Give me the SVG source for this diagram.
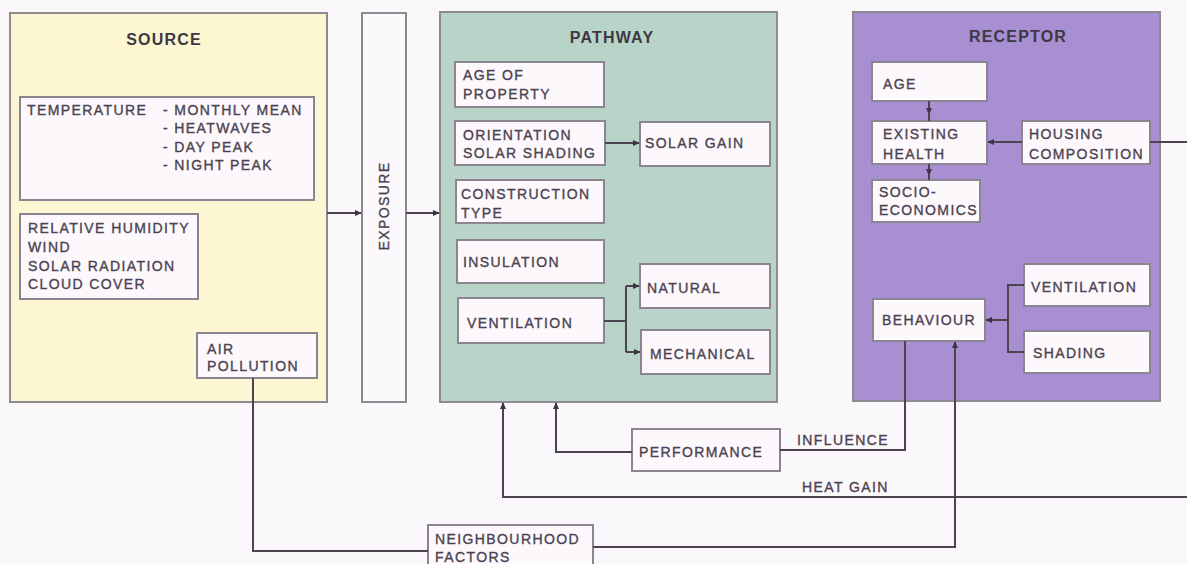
<svg xmlns="http://www.w3.org/2000/svg" width="1187" height="564" viewBox="0 0 1187 564">
  <defs>
    <marker id="arr" viewBox="0 0 10 10" refX="9" refY="5" markerWidth="7" markerHeight="7" orient="auto" markerUnits="userSpaceOnUse">
      <path d="M0,0.5 L10,5 L0,9.5 z" fill="#3c3541"/>
    </marker>
    <style>
      .panel { stroke: #8d8b90; stroke-width: 2; }
      .src { fill: #fcf6d2; }
      .path { fill: #b8d4c9; }
      .rec { fill: #a78fd2; }
      .box { fill: #fcf8fc; stroke: #8a8590; stroke-width: 2; }
      .t { font-family: "Liberation Sans", Arial, sans-serif; font-size: 14px; fill: #4b4350; stroke: #4b4350; stroke-width: 0.35; letter-spacing: 1.4px; }
      .h { font-family: "Liberation Sans", Arial, sans-serif; font-size: 16px; font-weight: bold; fill: #3e3842; letter-spacing: 1.2px; text-anchor: middle; }
      .ln { fill: none; stroke: #4b4350; stroke-width: 2; }
    </style>
  </defs>

  <rect width="1187" height="564" fill="#fbf8fb"/>

  <!-- panels -->
  <g id="source">
    <rect class="panel src" x="10" y="13" width="317" height="389"/>
    <text class="h" x="164" y="45">SOURCE</text>
  </g>
  <g id="exposure">
    <rect class="panel" fill="#fcf9fc" x="362" y="13" width="44" height="389"/>
    <text class="t" x="0" y="0" text-anchor="middle" transform="translate(389,206) rotate(-90)">EXPOSURE</text>
  </g>
  <g id="pathway">
    <rect class="panel path" x="440" y="12" width="337" height="390"/>
    <text class="h" x="612" y="43">PATHWAY</text>
  </g>
  <g id="receptor">
    <rect class="panel rec" x="853" y="12" width="307" height="389"/>
    <text class="h" x="1018" y="42">RECEPTOR</text>
  </g>

  <!-- source items -->
  <g id="temperature">
    <rect class="box" x="20" y="97" width="294" height="103"/>
    <text class="t" x="27" y="115">TEMPERATURE</text>
    <text class="t" x="163" y="115">- MONTHLY MEAN</text>
    <text class="t" x="163" y="133">- HEATWAVES</text>
    <text class="t" x="163" y="152">- DAY PEAK</text>
    <text class="t" x="163" y="170">- NIGHT PEAK</text>
  </g>
  <g id="climate">
    <rect class="box" x="20" y="214" width="178" height="85"/>
    <text class="t" x="28" y="233">RELATIVE HUMIDITY</text>
    <text class="t" x="28" y="252">WIND</text>
    <text class="t" x="28" y="271">SOLAR RADIATION</text>
    <text class="t" x="28" y="289">CLOUD COVER</text>
  </g>
  <g id="air-pollution">
    <rect class="box" x="197" y="333" width="120" height="45"/>
    <text class="t" x="207" y="354">AIR</text>
    <text class="t" x="207" y="371">POLLUTION</text>
  </g>

  <!-- pathway items -->
  <g id="age-of-property">
    <rect class="box" x="455" y="62" width="149" height="45"/>
    <text class="t" x="463" y="80">AGE OF</text>
    <text class="t" x="463" y="99">PROPERTY</text>
  </g>
  <g id="orientation">
    <rect class="box" x="455" y="121" width="150" height="44"/>
    <text class="t" x="463" y="140">ORIENTATION</text>
    <text class="t" x="463" y="158">SOLAR SHADING</text>
  </g>
  <g id="solar-gain">
    <rect class="box" x="640" y="122" width="130" height="44"/>
    <text class="t" x="645" y="148">SOLAR GAIN</text>
  </g>
  <g id="construction">
    <rect class="box" x="456" y="180" width="148" height="43"/>
    <text class="t" x="461" y="199">CONSTRUCTION</text>
    <text class="t" x="461" y="218">TYPE</text>
  </g>
  <g id="insulation">
    <rect class="box" x="457" y="240" width="147" height="43"/>
    <text class="t" x="463" y="267">INSULATION</text>
  </g>
  <g id="ventilation-p">
    <rect class="box" x="458" y="298" width="146" height="45"/>
    <text class="t" x="467" y="328">VENTILATION</text>
  </g>
  <g id="natural">
    <rect class="box" x="640" y="264" width="130" height="44"/>
    <text class="t" x="647" y="293">NATURAL</text>
  </g>
  <g id="mechanical">
    <rect class="box" x="641" y="330" width="129" height="44"/>
    <text class="t" x="650" y="359">MECHANICAL</text>
  </g>

  <!-- receptor items -->
  <g id="age">
    <rect class="box" x="872" y="62" width="115" height="39"/>
    <text class="t" x="883" y="89">AGE</text>
  </g>
  <g id="existing-health">
    <rect class="box" x="872" y="121" width="115" height="43"/>
    <text class="t" x="883" y="139">EXISTING</text>
    <text class="t" x="883" y="159">HEALTH</text>
  </g>
  <g id="socio-economics">
    <rect class="box" x="872" y="180" width="108" height="42"/>
    <text class="t" x="879" y="197">SOCIO-</text>
    <text class="t" x="879" y="215">ECONOMICS</text>
  </g>
  <g id="housing-composition">
    <rect class="box" x="1022" y="121" width="128" height="43"/>
    <text class="t" x="1029" y="139">HOUSING</text>
    <text class="t" x="1029" y="159">COMPOSITION</text>
  </g>
  <g id="ventilation-r">
    <rect class="box" x="1024" y="264" width="126" height="42"/>
    <text class="t" x="1031" y="292">VENTILATION</text>
  </g>
  <g id="shading">
    <rect class="box" x="1024" y="331" width="126" height="42"/>
    <text class="t" x="1033" y="358">SHADING</text>
  </g>
  <g id="behaviour">
    <rect class="box" x="873" y="299" width="112" height="42"/>
    <text class="t" x="882" y="325">BEHAVIOUR</text>
  </g>

  <!-- lower items -->
  <g id="performance">
    <rect class="box" x="632" y="429" width="148" height="42"/>
    <text class="t" x="639" y="457">PERFORMANCE</text>
  </g>
  <g id="neighbourhood">
    <rect class="box" x="428" y="525" width="165" height="45"/>
    <text class="t" x="435" y="544">NEIGHBOURHOOD</text>
    <text class="t" x="435" y="562">FACTORS</text>
  </g>

  <!-- connectors -->
  <g id="connectors">
    <path class="ln" d="M327,213 H361" marker-end="url(#arr)"/>
    <path class="ln" d="M406,213 H439" marker-end="url(#arr)"/>
    <path class="ln" d="M605,143 H639" marker-end="url(#arr)"/>
    <path class="ln" d="M604,321 H626"/>
    <path class="ln" d="M626,286 V352"/>
    <path class="ln" d="M626,286 H639" marker-end="url(#arr)"/>
    <path class="ln" d="M626,352 H640" marker-end="url(#arr)"/>

    <path class="ln" d="M929,101 V114" marker-end="url(#arr)"/>
    <path class="ln" d="M929,112 V121"/>
    <path class="ln" d="M929,164 V175" marker-end="url(#arr)"/>
    <path class="ln" d="M929,173 V180"/>
    <path class="ln" d="M1022,142 H988" marker-end="url(#arr)"/>
    <path class="ln" d="M1150,142 H1187"/>

    <path class="ln" d="M1024,285 H1008 V352 H1024"/>
    <path class="ln" d="M1008,320 H986" marker-end="url(#arr)"/>

    <path class="ln" d="M253,378 V551 H428"/>
    <path class="ln" d="M593,547 H955 V342" marker-end="url(#arr)"/>
    <path class="ln" d="M1187,497 H503 V403" marker-end="url(#arr)"/>
    <path class="ln" d="M632,452 H556 V403" marker-end="url(#arr)"/>
    <path class="ln" d="M780,450 H905 V341"/>

    <text class="t" x="797" y="445">INFLUENCE</text>
    <text class="t" x="802" y="492">HEAT GAIN</text>
  </g>
</svg>
